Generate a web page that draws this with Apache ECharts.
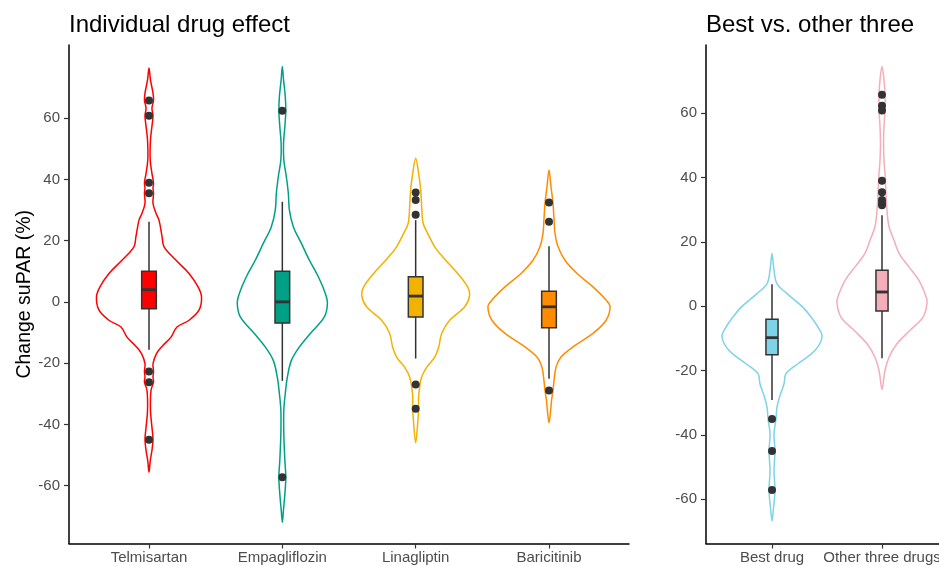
<!DOCTYPE html>
<html><head><meta charset="utf-8">
<script src="https://cdn.jsdelivr.net/npm/echarts@6/dist/echarts.min.js"></script>
<style>html,body{margin:0;padding:0;background:#fff}#c{width:939px;height:566px}</style>
</head><body><div id="c"></div>
<script>
// ---------- data ----------
const categoriesLeft = ['Telmisartan', 'Empagliflozin', 'Linagliptin', 'Baricitinib'];
const categoriesRight = ['Best drug', 'Other three drugs'];
const yTicks = [-60, -40, -20, 0, 20, 40, 60];
const colorsLeft = ['#FF0000', '#00A087', '#F2B200', '#FF8C00'];
const colorsRight = ['#7DD3E8', '#F4AEB9'];

// violin outlines: [value, half-width in category units]
const telmisartanViolin = [[76.4,0],[72.5,0.011],[68.2,0.030],[65.8,0.034],[63.3,0.022],[60.8,0.030],[57.3,0.022],[52.9,0.011],[46.4,0.009],[42.0,0.022],[38.9,0.034],[37.1,0.030],[35.5,0.034],[32.2,0.030],[28.9,0.053],[26.7,0.075],[21.3,0.098],[18.0,0.113],[13.6,0.203],[9.3,0.30],[4.9,0.368],[1.6,0.394],[-2.7,0.375],[-6.0,0.30],[-8.2,0.21],[-11.5,0.165],[-14.7,0.094],[-16.9,0.056],[-20.2,0.030],[-22.7,0.034],[-24.5,0.030],[-26.2,0.034],[-28.9,0.015],[-35.4,0.011],[-40.9,0.022],[-44.9,0.030],[-48.5,0.022],[-52.0,0.009],[-55.6,0]];
const empagliflozinViolin = [[76.9,0],[72.5,0.009],[67.1,0.022],[62.4,0.026],[57.3,0.019],[51.8,0.009],[46.4,0.011],[40.9,0.030],[35.5,0.045],[30.0,0.053],[24.5,0.083],[19.1,0.143],[13.6,0.203],[8.2,0.27],[2.7,0.323],[-0.5,0.338],[-4.9,0.315],[-10.3,0.21],[-14.7,0.128],[-19.1,0.068],[-24.5,0.038],[-30.0,0.022],[-35.4,0.011],[-43.1,0.011],[-51.8,0.019],[-57.3,0.026],[-62.7,0.019],[-68.2,0.008],[-72.0,0]];
const linagliptinViolin = [[46.9,0],[42.0,0.022],[36.6,0.038],[31.1,0.045],[25.7,0.056],[22.4,0.09],[18.0,0.143],[14.7,0.203],[9.3,0.315],[4.9,0.39],[2.2,0.405],[-1.6,0.368],[-6.0,0.255],[-10.3,0.195],[-14.7,0.173],[-18.0,0.143],[-21.3,0.083],[-24.5,0.045],[-27.8,0.030],[-31.1,0.022],[-34.9,0.022],[-39.8,0.015],[-46.0,0]];
const baricitinibViolin = [[43.1,0],[37.6,0.015],[32.2,0.030],[26.7,0.038],[22.4,0.045],[18.0,0.068],[13.6,0.12],[9.3,0.21],[4.9,0.33],[0.6,0.428],[-1.6,0.458],[-6.0,0.428],[-10.3,0.33],[-14.7,0.18],[-18.0,0.09],[-21.3,0.053],[-25.6,0.038],[-28.9,0.030],[-32.2,0.019],[-36.0,0.011],[-39.5,0]];
const bestDrugViolin = [[16.4,0],[11.2,0.018],[7.0,0.045],[3.9,0.136],[-0.3,0.28],[-3.4,0.355],[-6.5,0.418],[-9.6,0.455],[-13.8,0.39],[-17.9,0.236],[-21.0,0.127],[-24.2,0.109],[-28.3,0.068],[-31.5,0.045],[-35.1,0.036],[-39.7,0.018],[-45.0,0.027],[-51.2,0.018],[-57.2,0.027],[-62.6,0.014],[-66.8,0]];
const otherThreeViolin = [[74.5,0],[70.4,0.018],[65.7,0.027],[61.0,0.027],[55.8,0.018],[50.7,0.014],[45.4,0.018],[41.3,0.027],[35.1,0.036],[29.9,0.045],[24.7,0.064],[20.5,0.109],[16.4,0.155],[12.2,0.245],[8.0,0.336],[3.9,0.39],[1.3,0.41],[-3.4,0.373],[-7.5,0.255],[-11.7,0.136],[-15.9,0.064],[-20.0,0.027],[-25.8,0]];

// box stats: [lower whisker, Q1, median, Q3, upper whisker]
const boxLeft = [[-15.6,-2.2,4.0,10.0,26.2],[-25.8,-6.9,0.0,10.0,32.7],[-18.5,-4.9,1.9,8.2,26.7],[-25.1,-8.4,-1.6,3.5,18.2]];
const boxRight = [[-29.2,-15.1,-9.8,-4.1,6.8],[-16.2,-1.5,4.4,11.2,28.3]];

// outliers
const outliersLeft = [[65.8,60.8,38.9,35.5,-22.7,-26.2,-45.0],[62.4,-57.3],[35.7,33.3,28.5,-27.0,-34.9],[32.5,26.2,-28.9]];
const outliersRight = [[-35.1,-45.0,-57.2],[65.7,62.3,60.8,39.0,35.4,33.0,32.0,31.4]];

const violinsLeft = [telmisartanViolin, empagliflozinViolin, linagliptinViolin, baricitinibViolin];
const violinsRight = [bestDrugViolin, otherThreeViolin];

// ---------- rendering ----------
const FONT = 'Liberation Sans, Arial, Helvetica, sans-serif';
const BOX_W = 0.11;

function violinRender(profiles, colors) {
  return function (params, api) {
    const i = params.dataIndex, x = api.value(0), prof = profiles[i];
    const right = prof.map(p => api.coord([x + p[1], p[0]]));
    const left = prof.slice(1, -1).reverse().map(p => api.coord([x - p[1], p[0]]));
    return {type: 'polygon', shape: {points: right.concat(left), smooth: 0.35},
      style: {fill: 'none', stroke: colors[i], lineWidth: 1.5}};
  };
}
function boxRender(stats, colors) {
  return function (params, api) {
    const i = params.dataIndex, x = api.value(0), s = stats[i];
    const lo = api.coord([x, s[0]]), hi = api.coord([x, s[4]]);
    const tl = api.coord([x - BOX_W / 2, s[3]]), br = api.coord([x + BOX_W / 2, s[1]]);
    const ml = api.coord([x - BOX_W / 2, s[2]]), mr = api.coord([x + BOX_W / 2, s[2]]);
    return {type: 'group', children: [
      {type: 'line', shape: {x1: lo[0], y1: lo[1], x2: hi[0], y2: hi[1]}, style: {stroke: '#333', lineWidth: 1.5}},
      {type: 'rect', shape: {x: tl[0], y: tl[1], width: br[0] - tl[0], height: br[1] - tl[1]}, style: {fill: colors[i], stroke: '#333', lineWidth: 1.5}},
      {type: 'line', shape: {x1: ml[0], y1: ml[1], x2: mr[0], y2: mr[1]}, style: {stroke: '#333', lineWidth: 2.8}}
    ]};
  };
}
function catData(cats, stats) { return cats.map((c, i) => [i + 1, stats[i][2]]); }
function outlierData(list) {
  const out = [];
  list.forEach((vals, i) => vals.forEach(v => out.push([i + 1, v])));
  return out;
}
function xAxisDef(grid, cats, max) {
  const ticks = cats.map((c, i) => i + 1);
  return {gridIndex: grid, type: 'value', min: 0.4, max: max, splitLine: {show: false},
    axisLine: {onZero: false, lineStyle: {color: '#000', width: 1.5}},
    axisTick: {customValues: ticks, length: 5, lineStyle: {color: '#333', width: 1.2}},
    axisLabel: {customValues: ticks, formatter: v => cats[Math.round(v) - 1], fontSize: 15, color: '#4d4d4d', margin: 7, fontFamily: FONT, hideOverlap: false}};
}
function yAxisDef(grid, min, max, name) {
  return {gridIndex: grid, type: 'value', min: min, max: max, splitLine: {show: false},
    axisLine: {show: true, onZero: false, lineStyle: {color: '#000', width: 1.5}},
    axisTick: {show: true, customValues: yTicks, length: 5, lineStyle: {color: '#333', width: 1.2}},
    axisLabel: {customValues: yTicks, fontSize: 15, color: '#4d4d4d', margin: 9, fontFamily: FONT},
    name: name, nameLocation: 'middle', nameGap: 34, nameMoveOverlap: false,
    nameTextStyle: {fontSize: 19.5, color: '#000', fontFamily: FONT}};
}

const chart = echarts.init(document.getElementById('c'), null, {renderer: 'canvas'});
chart.setOption({
  animation: false,
  backgroundColor: '#fff',
  textStyle: {fontFamily: FONT},
  title: [
    {text: 'Individual drug effect', left: 69, top: 13, padding: 0, textStyle: {fontSize: 24, fontWeight: 'normal', color: '#000', fontFamily: FONT}},
    {text: 'Best vs. other three', left: 706, top: 13, padding: 0, textStyle: {fontSize: 24, fontWeight: 'normal', color: '#000', fontFamily: FONT}}
  ],
  grid: [
    {left: 69, top: 45, width: 560, bottom: 22.5, outerBoundsMode: 'none', containLabel: false},
    {left: 706, top: 45, width: 242, bottom: 22.5, outerBoundsMode: 'none', containLabel: false}
  ],
  xAxis: [xAxisDef(0, categoriesLeft, 4.6), xAxisDef(1, categoriesRight, 2.6)],
  yAxis: [yAxisDef(0, -78.9, 83.9, 'Change suPAR (%)'), yAxisDef(1, -73.8, 81.2, '')],
  series: [
    {type: 'custom', xAxisIndex: 0, yAxisIndex: 0, renderItem: violinRender(violinsLeft, colorsLeft), data: catData(categoriesLeft, boxLeft), encode: {x: 0, y: 1}, z: 1, clip: false},
    {type: 'custom', xAxisIndex: 1, yAxisIndex: 1, renderItem: violinRender(violinsRight, colorsRight), data: catData(categoriesRight, boxRight), encode: {x: 0, y: 1}, z: 1, clip: false},
    {type: 'custom', xAxisIndex: 0, yAxisIndex: 0, renderItem: boxRender(boxLeft, colorsLeft), data: catData(categoriesLeft, boxLeft), encode: {x: 0, y: 1}, z: 2},
    {type: 'custom', xAxisIndex: 1, yAxisIndex: 1, renderItem: boxRender(boxRight, colorsRight), data: catData(categoriesRight, boxRight), encode: {x: 0, y: 1}, z: 2},
    {type: 'scatter', xAxisIndex: 0, yAxisIndex: 0, data: outlierData(outliersLeft), symbolSize: 8, itemStyle: {color: '#333', opacity: 1}, z: 3},
    {type: 'scatter', xAxisIndex: 1, yAxisIndex: 1, data: outlierData(outliersRight), symbolSize: 8, itemStyle: {color: '#333', opacity: 1}, z: 3}
  ]
});
</script></body></html>
